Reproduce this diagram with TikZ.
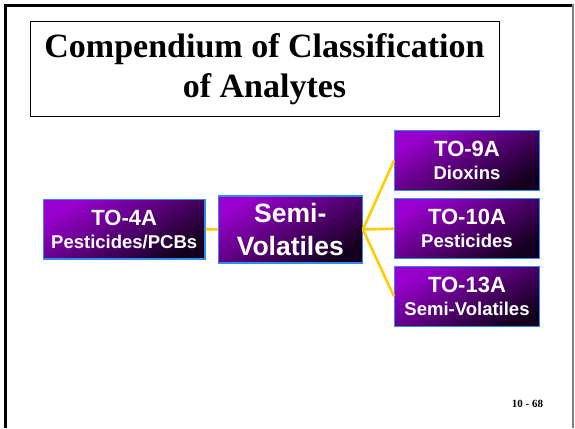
\documentclass[tikz,border=0pt]{standalone}
\usepackage{fontspec}
\setmainfont{Liberation Serif}
\newfontfamily\boxfont{Liberation Sans}
\usetikzlibrary{shadings}
\definecolor{boxtop}{HTML}{9A00CF}
\definecolor{boxmid}{HTML}{5E0090}
\definecolor{boxbot}{HTML}{14001E}
\definecolor{boxedge}{HTML}{2E8BEF}
\definecolor{linkcol}{HTML}{FFCC00}
\tikzset{
  purplebox/.style={rectangle, draw=boxedge, line width=1.2pt,
    top color=boxtop, middle color=boxmid, bottom color=boxbot, shading angle=30,
    text=white, align=center, inner sep=0pt,
    font=\boxfont\bfseries\fontsize{22}{23}\selectfont},
  smallbox/.style={purplebox, minimum width=145pt, minimum height=60pt},
  link/.style={draw=linkcol, line width=2.6pt},
  titlebox/.style={rectangle, draw=black, line width=0.8pt, inner sep=0pt,
    minimum width=469pt, minimum height=95.5pt, align=center,
    font=\bfseries\fontsize{34}{39.4}\selectfont},
}
\begin{document}
\begin{tikzpicture}[x=1pt, y=-1pt]
\useasboundingbox (0,0) rectangle (575,428);
% slide frame
\fill[black] (4,4) rectangle (7.3,428);
\fill[black] (4,4) rectangle (574,7);
\draw[gray, line width=1.2pt] (573,4) -- (573,428);
% title
\node[titlebox] (title) at (264.5,69) {Compendium of Classification\\of Analytes};
% boxes
\node[purplebox, minimum width=161.7pt, minimum height=59.7pt] (to4a) at (124.2,229.2)
  {TO-4A\\\fontsize{18.5}{23}\selectfont Pesticides/PCBs};
\node[purplebox, minimum width=144pt, minimum height=67pt,
  font=\boxfont\bfseries\fontsize{26.5}{33.3}\selectfont] (semi) at (290.3,229.5)
  {Semi-\\Volatiles};
\node[smallbox] (to9a) at (467,160.7)
  {TO-9A\\\fontsize{18.5}{23}\selectfont Dioxins};
\node[smallbox] (to10a) at (467,228.7)
  {TO-10A\\\fontsize{18.5}{23}\selectfont Pesticides};
\node[smallbox] (to13a) at (467,296.3)
  {TO-13A\\\fontsize{18.5}{23}\selectfont Semi-Volatiles};
% connectors
\draw[link] (to4a.east) -- (semi.west);
\draw[link] (semi.east) -- (to9a.west);
\draw[link] (semi.east) -- (to10a.west);
\draw[link] (semi.east) -- (to13a.west);
% page number
\node[anchor=base, inner sep=0pt, font=\bfseries\fontsize{11}{13}\selectfont] (pagenum) at (527.5,407.7) {10 - 68};
\end{tikzpicture}
\end{document}
